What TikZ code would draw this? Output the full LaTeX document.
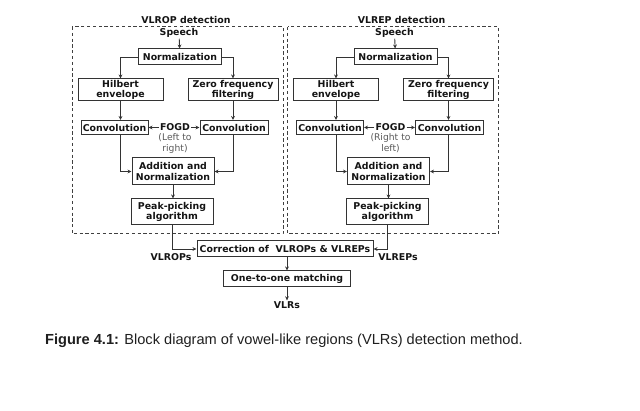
\documentclass[tikz,border=0pt]{standalone}
\usepackage{fontspec}
\setmainfont{DejaVu Sans}
\newfontfamily\capfont{Liberation Sans}
\usetikzlibrary{arrows.meta,calc}
\begin{document}
\begin{tikzpicture}[x=1pt,y=-1pt,
 blk/.style={draw=black!80,line width=1pt,inner sep=0pt,align=center,text=black!92,font=\bfseries\fontsize{9.4}{10.8}\selectfont},
 lbl/.style={inner sep=0pt,outer sep=1.2pt,align=center,text=black!92,font=\bfseries\fontsize{9.4}{10.8}\selectfont},
 note/.style={inner sep=0pt,align=center,text=black!65,font=\fontsize{9.2}{11}\selectfont},
 conn/.style={draw=black!80,line width=0.9pt,-{Stealth[length=4pt,width=3.8pt]}},
 frame/.style={draw=black!75,line width=1pt,dash pattern=on 3.2pt off 2.6pt}]
\useasboundingbox (0,0) rectangle (640,411);
\foreach \s/\dx/\title/\notea/\noteb in {L/0/VLROP detection/(Left to/right), R/215.5/VLREP detection/(Right to/left)}{
 \begin{scope}[xshift=\dx pt]
  \node[lbl] (title\s) at (186,20) {\title};
  \node[lbl] (speech\s) at (179,33) {Speech};
  \node[blk,minimum width=83pt,minimum height=16pt] (norm\s) at (180,57) {Normalization};
  \node[blk,minimum width=85pt,minimum height=22pt] (hil\s) at (120.5,90) {Hilbert\\envelope};
  \node[blk,minimum width=90pt,minimum height=22pt] (zff\s) at (233,90) {Zero frequency\\filtering};
  \node[blk,minimum width=67pt,minimum height=14pt] (cva\s) at (114.5,127.5) {Convolution};
  \node[blk,minimum width=68pt,minimum height=14pt] (cvb\s) at (234,127.5) {Convolution};
  \node[lbl] (fogd\s) at (175,127.5) {FOGD};
  \node[note] (note\s) at (175,143.5) {\notea\\\noteb};
  \node[blk,minimum width=82pt,minimum height=27pt] (add\s) at (173,171.5) {Addition and\\Normalization};
  \node[blk,minimum width=82pt,minimum height=26pt] (peak\s) at (172,212) {Peak-picking\\algorithm};
  \draw[frame] (72,27) rectangle (283,234);
  \draw[conn] (speech\s) -- (norm\s);
  \draw[conn] (norm\s.west) -| (hil\s.north);
  \draw[conn] (norm\s.east) -| (zff\s.north);
  \draw[conn] (hil\s.south) -- (hil\s.south |- cva\s.north);
  \draw[conn] (zff\s.south) -- (zff\s.south |- cvb\s.north);
  \draw[conn] (fogd\s.west) -- (cva\s.east);
  \draw[conn] (fogd\s.east) -- (cvb\s.west);
  \draw[conn] (hil\s.south |- cva\s.south) |- (add\s.west);
  \draw[conn] (zff\s.south |- cvb\s.south) |- (add\s.east);
  \draw[conn] (add\s.south) -- (add\s.south |- peak\s.north);
 \end{scope}
}
\node[blk,minimum width=176pt,minimum height=16pt] (corr) at (285,249) {Correction of\ \ VLROPs \& VLREPs};
\node[blk,minimum width=127pt,minimum height=16pt] (one) at (287,279) {One-to-one matching};
\node[lbl] (vlrs) at (287,305) {VLRs};
\node[lbl] (vlrops) at (171,257) {VLROPs};
\node[lbl] (vlreps) at (398,257) {VLREPs};
\draw[conn] (peakL.south) |- (corr.west);
\draw[conn] (peakR.south) |- (corr.east);
\draw[conn] (corr.south -| one.north) -- (one.north);
\draw[conn] (one.south) -- (vlrs.north);
\node[anchor=base,inner sep=0pt,text=black!88,font=\capfont\fontsize{14.6}{17}\selectfont] (cap) at (284,345) {\textbf{Figure 4.1:} Block diagram of vowel-like regions (VLRs) detection method.};
\end{tikzpicture}
\end{document}
